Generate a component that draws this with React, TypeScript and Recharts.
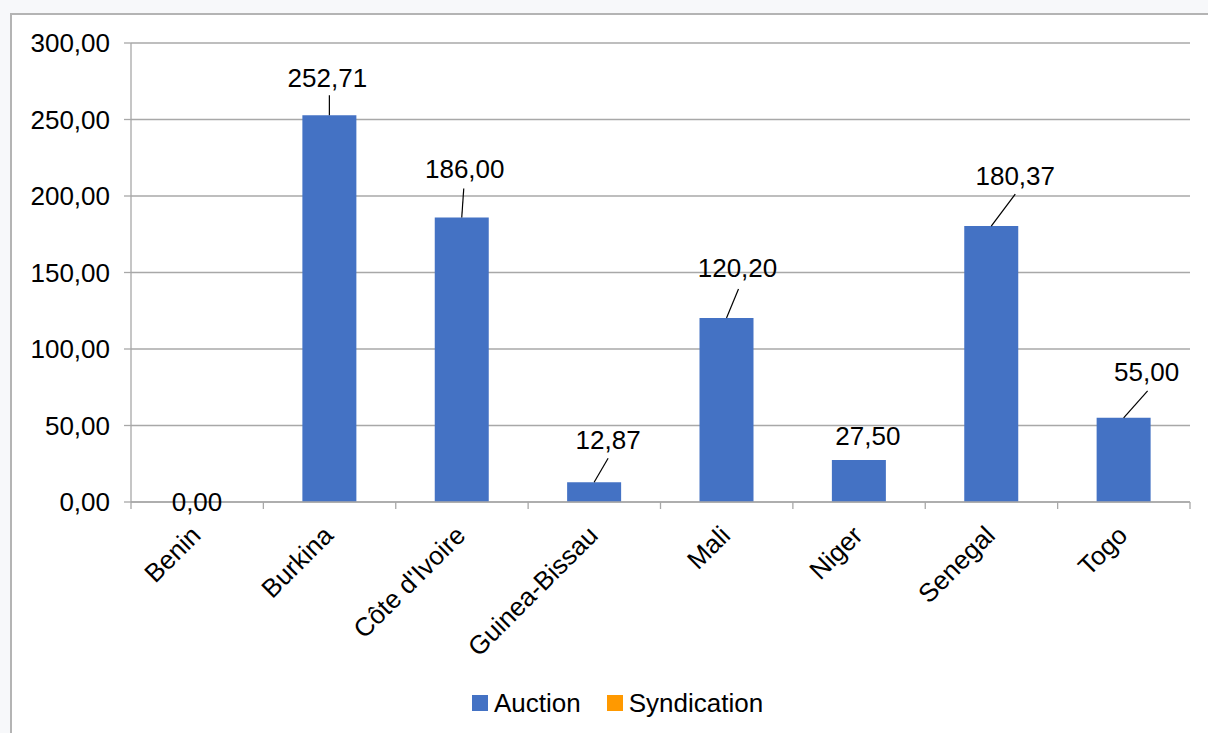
import React from 'react';
import { BarChart, Bar, XAxis, YAxis, CartesianGrid, Legend, LabelList, Rectangle } from 'recharts';

const categories = ['Benin', 'Burkina', "Côte d'Ivoire", 'Guinea-Bissau', 'Mali', 'Niger', 'Senegal', 'Togo'];
const auction = [0.0, 252.71, 186.0, 12.87, 120.2, 27.5, 180.37, 55.0];
const syndication: (number | null)[] = [null, null, null, null, null, null, null, null];
const yTicks = [0, 50, 100, 150, 200, 250, 300];

// label placement (relative to top-centre of each bar), styling only
const labelOffsets = [
  { dx: 0, dy: 0, line: null },
  { dx: -2, dy: -38, line: [0, -20] },
  { dx: 3, dy: -49, line: [2, -29] },
  { dx: 14, dy: -43, line: [14, -24] },
  { dx: 11, dy: -50, line: [12, -29] },
  { dx: 9, dy: -24, line: null },
  { dx: 24, dy: -50, line: [24, -32] },
  { dx: 23, dy: -46, line: [24, -27] },
];

const data = categories.map((c, i) => ({ name: c, auction: auction[i], syndication: syndication[i] }));

const FONT = '"Liberation Sans", Arial, sans-serif';
const FS = 26;
const W = 1208;
const H = 733;
const PLOT_LEFT = 131;
const PLOT_RIGHT = 1190;
const PLOT_BOTTOM = 502;
const BAND = (PLOT_RIGHT - PLOT_LEFT) / categories.length;
const BLUE = '#4472C4';
const ORANGE = '#FF9900';
const GRID = '#a8a8a8';

const fmt = (v: number) => v.toFixed(2).replace('.', ',');

const DataLabel = (props: any) => {
  const { x, y, width, value } = props;
  const index = auction.indexOf(Number(value));
  const o = labelOffsets[index] || { dx: 0, dy: -20, line: null };
  const cx = Number(x) + Number(width) / 2;
  const ty = Number(value) === 0 ? PLOT_BOTTOM : Number(y);
  return (
    <g>
      {o.line && (
        <line x1={cx} y1={ty} x2={cx + o.line[0]} y2={ty + o.line[1]} stroke="#000" strokeWidth={1.2} />
      )}
      <text x={cx + o.dx} y={ty + o.dy} dy="0.36em" textAnchor="middle" fontFamily={FONT} fontSize={FS} fill="#000">
        {fmt(Number(value))}
      </text>
    </g>
  );
};

const BarShape = (props: any) => {
  const { value } = props;
  const v = Array.isArray(value) ? value[1] - value[0] : value;
  if (!v) return <g />;
  return <Rectangle {...props} />;
};

const CatTick = (props: any) => {
  const { x, y, payload, index } = props;
  const ry = y + 22;
  const tx = x - 8;
  return (
    <g>
      <line x1={x - BAND / 2} y1={y} x2={x - BAND / 2} y2={y + 7} stroke={GRID} strokeWidth={1.3} />
      {index === categories.length - 1 && (
        <line x1={x + BAND / 2} y1={y} x2={x + BAND / 2} y2={y + 7} stroke={GRID} strokeWidth={1.3} />
      )}
      <text
        x={tx}
        y={ry}
        dy="0.71em"
        textAnchor="end"
        transform={`rotate(-45, ${tx}, ${ry})`}
        fontFamily={FONT}
        fontSize={FS}
        fill="#000"
      >
        {payload.value}
      </text>
    </g>
  );
};

const LegendContent = () => (
  <div style={{ height: 40 }}>
    <div style={{ display: 'flex', alignItems: 'center', paddingLeft: 472, height: 20, fontFamily: FONT, fontSize: FS, color: '#000' }}>
      <span style={{ width: 16, height: 16, background: BLUE, display: 'inline-block', marginRight: 6 }} />
      <span style={{ marginRight: 26 }}>Auction</span>
      <span style={{ width: 16, height: 16, background: ORANGE, display: 'inline-block', marginRight: 6 }} />
      <span>Syndication</span>
    </div>
  </div>
);

export default function App() {
  return (
    <div style={{ position: 'absolute', left: 0, top: 0, width: W, height: H, background: '#f7f8fa', overflow: 'hidden' }}>
      <div
        style={{
          position: 'absolute',
          left: 10,
          top: 13,
          width: W + 20,
          height: H + 20,
          background: '#fff',
          borderLeft: '2px solid #b4b4b4',
          borderTop: '2px solid #b4b4b4',
        }}
      />
      <div style={{ position: 'absolute', left: 0, top: 0 }}>
        <BarChart width={W} height={H} data={data} margin={{ top: 43, right: W - PLOT_RIGHT, bottom: 0, left: 0 }}>
          <CartesianGrid vertical={false} stroke={GRID} strokeWidth={1.3} />
          <XAxis
            dataKey="name"
            height={191}
            tick={<CatTick />}
            tickLine={false}
            tickSize={0}
            tickMargin={0}
            interval={0}
            axisLine={{ stroke: GRID, strokeWidth: 1.3 }}
          />
          <YAxis
            width={PLOT_LEFT}
            domain={[0, 300]}
            ticks={yTicks}
            tickFormatter={fmt}
            tickSize={7}
            tickMargin={14}
            tickLine={{ stroke: GRID, strokeWidth: 1.3 }}
            axisLine={{ stroke: GRID, strokeWidth: 1.3 }}
            tick={{ fontFamily: FONT, fontSize: FS, fill: '#000' }}
          />
          <Legend verticalAlign="bottom" height={40} content={<LegendContent />} />
          <Bar
            dataKey="auction"
            name="Auction"
            fill={BLUE}
            barSize={54}
            minPointSize={1}
            shape={<BarShape />}
            isAnimationActive={false}
          >
            <LabelList dataKey="auction" content={<DataLabel />} />
          </Bar>
        </BarChart>
      </div>
    </div>
  );
}
